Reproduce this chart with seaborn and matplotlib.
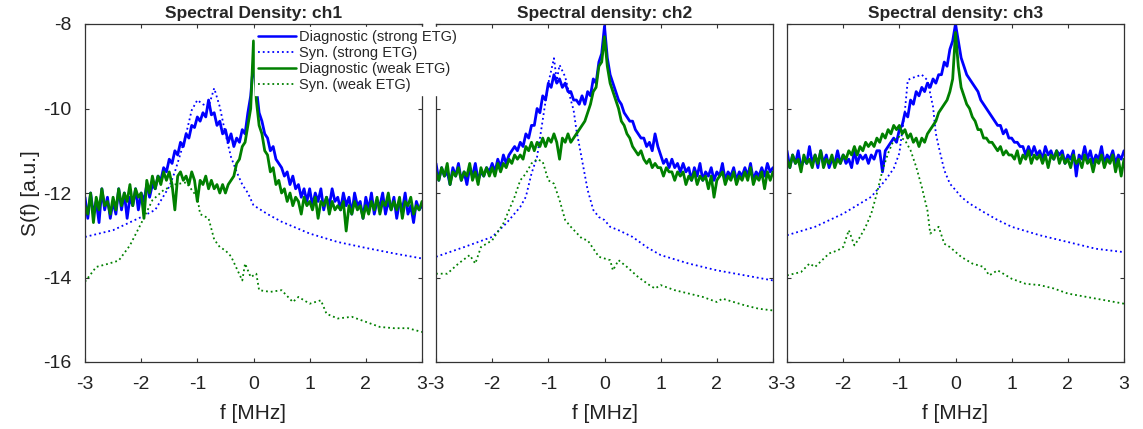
import numpy as np
import pandas as pd
import matplotlib
matplotlib.use("Agg")
import matplotlib.pyplot as plt
import seaborn as sns
from matplotlib.lines import Line2D

# frequency grid of the diagnostic spectra [MHz]
freq = np.linspace(-3, 3, 121)

# ---- ch1 ----
ch1_diag_strong = [
    -12.1, -12.6, -12.0, -12.5, -12.2, -12.7, -11.9, -12.4, -12.1, -12.6,
    -12.2, -12.5, -11.9, -12.4, -12.0, -12.6, -12.1, -12.3, -11.9, -12.4,
    -12.0, -12.2, -11.8, -12.1, -11.8, -11.9, -11.6, -11.7, -11.4, -11.5,
    -11.2, -11.3, -11.0, -11.1, -10.8, -10.9, -10.6, -10.7, -10.4, -10.45,
    -10.2, -10.3, -10.1, -10.2, -9.8, -10.15, -10.1, -10.4, -10.3, -10.6,
    -10.5, -10.8, -10.6, -10.9, -10.7, -10.8, -10.5, -10.6, -10.1, -9.7,
    -8.9,
    -9.5, -10.1, -10.3, -10.6, -10.7, -11.0, -10.9, -11.2, -11.3,
    -11.4, -11.6, -11.5, -11.8, -11.6, -11.9, -11.8, -12.1, -11.9, -12.2,
    -11.9, -12.3, -12.0, -12.2, -11.9, -12.4, -12.1, -12.3, -11.9, -12.2,
    -12.1, -12.4, -12.0, -12.3, -12.1, -12.5, -12.0, -12.3, -12.2, -12.6,
    -12.1, -12.4, -12.0, -12.5, -12.2, -12.3, -12.0, -12.5, -12.2, -12.4,
    -12.1, -12.6, -12.2, -12.4, -12.0, -12.5, -12.3, -12.7, -12.2, -12.4, -12.3,
]
ch1_diag_weak = [
    -12.3, -12.5, -12.0, -12.7, -12.1, -12.4, -11.9, -12.3, -12.2, -12.5,
    -12.1, -12.4, -11.9, -12.3, -12.0, -12.2, -11.8, -12.3, -11.9, -12.1,
    -12.0, -12.6, -11.7, -12.0, -11.6, -11.9, -11.6, -11.8, -11.5, -11.7,
    -11.5, -11.8, -12.4, -11.6, -11.5, -11.7, -11.6, -11.8, -11.5, -11.7,
    -12.2, -11.7, -11.8, -11.6, -11.9, -11.7, -11.9, -11.8, -12.0, -11.8,
    -12.0, -11.8, -11.7, -11.6, -11.3, -11.2, -10.9, -10.8, -10.4, -10.0,
    -8.4,
    -9.8, -10.4, -10.6, -11.0, -11.1, -11.5, -11.4, -11.8, -11.7,
    -12.0, -11.9, -12.2, -12.0, -12.3, -12.1, -12.2, -12.5, -12.1, -12.3,
    -12.2, -12.4, -12.1, -12.6, -12.2, -12.3, -12.1, -12.5, -12.2, -12.4,
    -12.3, -12.4, -12.2, -12.9, -12.3, -12.5, -12.2, -12.4, -12.3, -12.6,
    -12.3, -12.5, -12.2, -12.4, -12.1, -12.5, -12.2, -12.3, -12.0, -12.4,
    -12.2, -12.4, -12.1, -12.6, -12.2, -12.3, -12.1, -12.5, -12.3, -12.4, -12.2,
]
ch1_syn_strong_f = [-3, -2.5, -2, -1.75, -1.5, -1.4, -1.3, -1.2, -1.1, -1.0, -0.9, -0.8,
                    -0.7, -0.6, -0.5, -0.4, -0.3, -0.2, -0.1, 0, 0.25, 0.5, 1.0, 1.5,
                    2.0, 2.5, 3.0]
ch1_syn_strong = [-13.04, -12.88, -12.57, -12.4, -11.85, -11.5, -11.07, -10.6, -10.04, -9.8,
                  -9.9, -9.96, -9.52, -9.96, -10.6, -11.15, -11.5, -11.8, -12.0, -12.29,
                  -12.5, -12.68, -12.96, -13.16, -13.3, -13.43, -13.55]
ch1_syn_weak_f = [-3, -2.8, -2.6, -2.4, -2.2, -2.0, -1.8, -1.6, -1.4, -1.2, -1.0, -0.95,
                  -0.8, -0.7, -0.6, -0.5, -0.4, -0.2, -0.15, -0.05, 0.05, 0.1, 0.3, 0.5,
                  0.7, 0.8, 1.0, 1.2, 1.3, 1.5, 1.75, 2.0, 2.25, 2.5, 2.75, 3.0]
ch1_syn_weak = [-14.1, -13.75, -13.68, -13.6, -13.24, -12.72, -12.17, -11.93, -11.8, -11.75,
                -12.1, -12.5, -12.6, -13.1, -13.28, -13.36, -13.5, -14.07, -13.67, -13.99,
                -13.91, -14.3, -14.34, -14.3, -14.58, -14.46, -14.62, -14.54, -14.86,
                -14.97, -14.93, -15.05, -15.17, -15.2, -15.2, -15.29]

# ---- ch2 ----
ch2_diag_strong = [
    -11.3, -11.7, -11.4, -11.6, -11.5, -11.8, -11.4, -11.6, -11.3, -11.7,
    -11.5, -11.8, -11.4, -11.6, -11.3, -11.7, -11.5, -11.6, -11.4, -11.5,
    -11.3, -11.5, -11.2, -11.4, -11.1, -11.3, -11.1, -11.0, -10.9, -11.0,
    -10.8, -10.9, -10.6, -10.7, -10.4, -10.4, -10.0, -10.1, -9.7, -9.8,
    -9.4, -9.5, -9.2, -9.4, -9.3, -9.5, -9.4, -9.6, -9.6, -9.8,
    -9.8, -9.9, -9.7, -9.9, -9.6, -9.7, -9.3, -9.4, -8.9, -8.7,
    -8.05,
    -8.8, -9.2, -9.4, -9.6, -9.8, -9.9, -10.1, -10.2, -10.3,
    -10.3, -10.5, -10.6, -10.7, -10.7, -10.9, -10.8, -11.0, -10.6, -10.9,
    -11.1, -11.3, -11.2, -11.4, -11.2, -11.4, -11.3, -11.5, -11.3, -11.5,
    -11.4, -11.7, -11.4, -11.6, -11.3, -11.7, -11.5, -11.6, -11.4, -11.7,
    -11.5, -11.6, -11.3, -11.7, -11.5, -11.6, -11.4, -11.7, -11.5, -11.6,
    -11.4, -11.6, -11.3, -11.7, -11.5, -11.6, -11.4, -11.6, -11.3, -11.5, -11.4,
]
ch2_diag_weak = [
    -11.5, -11.7, -11.4, -11.6, -11.3, -11.8, -11.5, -11.6, -11.4, -11.7,
    -11.5, -11.6, -11.3, -11.7, -11.5, -11.8, -11.4, -11.6, -11.4, -11.6,
    -11.4, -11.6, -11.3, -11.5, -11.3, -11.4, -11.2, -11.3, -11.1, -11.2,
    -11.1, -11.2, -10.9, -11.0, -10.8, -11.0, -10.8, -10.9, -10.7, -10.9,
    -10.7, -10.8, -10.6, -10.8, -11.2, -10.7, -10.8, -10.6, -10.8, -10.7,
    -10.6, -10.5, -10.4, -10.3, -10.1, -9.9, -9.6, -9.5, -9.0, -8.9,
    -8.3,
    -9.0, -9.4, -9.6, -9.8, -10.0, -10.3, -10.4, -10.6, -10.7,
    -10.9, -11.0, -11.1, -11.0, -11.2, -11.3, -11.2, -11.4, -11.3, -11.4,
    -11.4, -11.6, -11.4, -11.5, -11.5, -11.7, -11.5, -11.6, -11.5, -11.8,
    -11.6, -11.7, -11.5, -11.8, -11.6, -11.7, -11.6, -11.9, -11.6, -12.1,
    -11.7, -11.6, -11.5, -11.8, -11.6, -11.7, -11.5, -11.8, -11.6, -11.7,
    -11.5, -11.7, -11.4, -11.8, -11.6, -11.7, -11.5, -11.9, -11.5, -11.7, -11.5,
]
ch2_syn_strong_f = [-3, -2.5, -2.0, -1.75, -1.5, -1.4, -1.3, -1.2, -1.1, -1.0, -0.9, -0.85,
                    -0.8, -0.7, -0.6, -0.55, -0.5, -0.4, -0.3, -0.2, -0.1, 0, 0.1, 0.25,
                    0.5, 0.75, 1.0, 1.5, 2.0, 2.5, 3.0]
ch2_syn_strong = [-13.51, -13.28, -13.04, -12.72, -12.33, -12.09, -11.54, -11.14, -10.27,
                  -9.4, -8.81, -9.33, -8.97, -9.25, -9.8, -10.04, -10.51, -11.22, -11.93,
                  -12.4, -12.57, -12.64, -12.8, -12.88, -13.04, -13.28, -13.47, -13.67,
                  -13.83, -13.95, -14.07]
ch2_syn_weak_f = [-3, -2.8, -2.6, -2.4, -2.3, -2.2, -2.0, -1.8, -1.6, -1.5, -1.4, -1.3,
                  -1.2, -1.1, -1.0, -0.9, -0.8, -0.7, -0.6, -0.4, -0.3, -0.1, 0.1, 0.15,
                  0.25, 0.4, 0.6, 0.8, 0.9, 1.0, 1.25, 1.5, 1.75, 2.0, 2.1, 2.5, 2.75, 3.0]
ch2_syn_weak = [-13.91, -13.91, -13.67, -13.47, -13.67, -13.28, -13.12, -12.72, -12.09,
                -11.7, -11.54, -11.3, -11.2, -11.26, -11.7, -11.78, -12.17, -12.64, -12.8,
                -13.08, -13.12, -13.51, -13.59, -13.83, -13.59, -13.75, -13.99, -14.18,
                -14.26, -14.18, -14.3, -14.38, -14.46, -14.58, -14.5, -14.66, -14.74,
                -14.78]

# ---- ch3 ----
ch3_diag_strong = [
    -11.0, -11.4, -11.1, -11.3, -11.0, -11.4, -11.2, -11.3, -10.9, -11.3,
    -11.1, -11.4, -11.0, -11.3, -11.1, -11.4, -11.2, -11.3, -11.0, -11.3,
    -11.1, -11.3, -11.2, -11.4, -11.0, -11.3, -11.1, -11.2, -11.1, -11.3,
    -11.1, -11.2, -11.0, -11.0, -11.5, -11.0, -10.9, -10.8, -10.7, -10.8,
    -10.5, -10.4, -10.1, -10.2, -9.8, -9.9, -9.6, -9.7, -9.5, -9.6,
    -9.4, -9.5, -9.3, -9.4, -9.2, -9.2, -8.9, -9.0, -8.6, -8.4,
    -8.0,
    -8.4, -8.8, -9.0, -9.2, -9.3, -9.4, -9.5, -9.6, -9.8,
    -9.9, -10.0, -10.1, -10.2, -10.3, -10.4, -10.4, -10.6, -10.5, -10.7,
    -10.7, -10.8, -10.8, -10.9, -10.9, -11.1, -10.9, -11.1, -10.9, -11.1,
    -11.0, -11.2, -10.9, -11.1, -11.0, -11.2, -11.0, -11.1, -11.0, -11.3,
    -11.1, -11.2, -11.0, -11.6, -11.1, -11.2, -10.9, -11.2, -11.0, -11.3,
    -11.1, -11.2, -10.9, -11.3, -11.1, -11.2, -11.0, -11.3, -11.1, -11.2, -11.0,
]
ch3_diag_weak = [
    -11.2, -11.4, -11.1, -11.3, -11.2, -11.5, -11.1, -11.3, -11.2, -11.4,
    -11.1, -11.3, -11.0, -11.4, -11.2, -11.3, -11.1, -11.4, -11.2, -11.3,
    -11.1, -11.2, -11.0, -11.1, -10.9, -11.1, -10.9, -11.0, -10.8, -10.9,
    -10.8, -10.9, -10.7, -10.8, -10.6, -10.7, -10.5, -10.6, -10.4, -10.5,
    -10.4, -10.6, -10.5, -10.7, -10.6, -10.8, -10.7, -10.9, -10.7, -10.8,
    -10.6, -10.5, -10.4, -10.3, -10.1, -10.0, -9.9, -9.8, -9.6, -9.3,
    -8.2,
    -9.0, -9.5, -9.7, -9.9, -10.0, -10.2, -10.3, -10.5, -10.5,
    -10.7, -10.7, -10.8, -10.8, -10.9, -11.0, -10.9, -11.1, -11.0, -11.1,
    -11.1, -11.2, -11.0, -11.3, -11.1, -11.2, -11.0, -11.3, -11.1, -11.2,
    -11.1, -11.3, -11.1, -11.4, -11.1, -11.2, -11.0, -11.3, -11.1, -11.3,
    -11.2, -11.4, -11.1, -11.3, -11.2, -11.4, -11.1, -11.3, -11.2, -11.5,
    -11.2, -11.3, -11.1, -11.4, -11.2, -11.3, -11.1, -11.5, -11.2, -11.6, -11.2,
]
ch3_syn_strong_f = [-3, -2.5, -2.0, -1.5, -1.25, -1.1, -1.0, -0.9, -0.85, -0.8, -0.6, -0.5,
                    -0.4, -0.35, -0.3, -0.2, -0.1, 0, 0.1, 0.25, 0.5, 0.75, 1.0, 1.5, 2.0,
                    2.5, 3.0]
ch3_syn_strong = [-13.0, -12.8, -12.49, -12.09, -11.7, -11.42, -11.06, -10.04, -9.33, -9.29,
                  -9.2, -9.33, -9.96, -10.59, -10.9, -11.46, -11.78, -11.93, -12.09,
                  -12.25, -12.45, -12.64, -12.8, -13.0, -13.16, -13.32, -13.4]
ch3_syn_weak_f = [-3, -2.75, -2.6, -2.5, -2.25, -2.1, -2.0, -1.9, -1.8, -1.7, -1.6, -1.5,
                  -1.4, -1.3, -1.2, -1.1, -1.0, -0.9, -0.8, -0.7, -0.6, -0.5, -0.45, -0.3,
                  -0.2, -0.1, 0.1, 0.3, 0.5, 0.6, 0.75, 1.0, 1.25, 1.5, 1.75, 2.0, 2.5, 3.0]
ch3_syn_weak = [-13.95, -13.87, -13.67, -13.75, -13.43, -13.36, -13.28, -12.88, -13.24,
                -13.04, -12.8, -12.49, -12.01, -11.46, -11.06, -10.75, -10.67, -10.75,
                -10.99, -11.38, -11.86, -12.41, -12.96, -12.8, -13.2, -13.28, -13.51,
                -13.67, -13.75, -13.95, -13.83, -14.03, -14.15, -14.18, -14.26, -14.38,
                -14.5, -14.62]

titles = ["Spectral Density: ch1", "Spectral density: ch2", "Spectral density: ch3"]
labels = ["Diagnostic (strong ETG)", "Syn. (strong ETG)",
          "Diagnostic (weak ETG)", "Syn. (weak ETG)"]

panels = [
    (ch1_diag_strong, ch1_syn_strong_f, ch1_syn_strong, ch1_diag_weak, ch1_syn_weak_f, ch1_syn_weak),
    (ch2_diag_strong, ch2_syn_strong_f, ch2_syn_strong, ch2_diag_weak, ch2_syn_weak_f, ch2_syn_weak),
    (ch3_diag_strong, ch3_syn_strong_f, ch3_syn_strong, ch3_diag_weak, ch3_syn_weak_f, ch3_syn_weak),
]

BLUE = "#0000ff"
GREEN = "#008000"

sns.set_style("ticks")
plt.rcParams["font.family"] = ["Liberation Sans", "DejaVu Sans"]
plt.rcParams["axes.unicode_minus"] = False
plt.rcParams["xtick.direction"] = "in"
plt.rcParams["ytick.direction"] = "in"

fig = plt.figure(figsize=(11.43, 4.29), dpi=100)
lefts = [85, 436, 787]
for k, left in enumerate(lefts):
    ax = fig.add_axes([left / 1143, 1 - 362 / 429, 337 / 1143, 338 / 429])
    ds, sfs, ss, dw, sfw, sw = panels[k]
    sns.lineplot(x=freq, y=ds, ax=ax, color=BLUE, lw=2.0, estimator=None, sort=False)
    sns.lineplot(x=sfs, y=ss, ax=ax, color=BLUE, lw=1.3, ls=":", estimator=None, sort=False)
    sns.lineplot(x=freq, y=dw, ax=ax, color=GREEN, lw=2.0, estimator=None, sort=False)
    sns.lineplot(x=sfw, y=sw, ax=ax, color=GREEN, lw=1.3, ls=":", estimator=None, sort=False)

    ax.set_xlim(-3, 3)
    ax.set_ylim(-16, -8)
    ax.set_xticks(range(-3, 4))
    ax.set_yticks(range(-16, -7, 2))
    ax.tick_params(top=True, right=True, labelsize=14, length=3, width=0.8,
                   color="#333333", labelcolor="#222222")
    ax.tick_params(axis="x", pad=10)
    ax.tick_params(axis="y", pad=10)
    for sp in ax.spines.values():
        sp.set_linewidth(0.9)
        sp.set_color("#333333")
    ax.set_xlabel("f [MHz]", fontsize=15, labelpad=8, color="#222222")
    ax.set_title(titles[k], fontsize=12.5, fontweight="bold", pad=4)
    if k == 0:
        ax.set_ylabel("S(f) [a.u.]", fontsize=15, labelpad=2, color="#222222")
    else:
        ax.set_yticklabels([])
        ax.set_ylabel("")

handles = [
    Line2D([], [], color=BLUE, lw=1.8),
    Line2D([], [], color=BLUE, lw=1.3, ls=":"),
    Line2D([], [], color=GREEN, lw=1.8),
    Line2D([], [], color=GREEN, lw=1.3, ls=":"),
]
leg = fig.legend(handles, labels, loc="upper left",
                 bbox_to_anchor=(255 / 1143, 1 - 27 / 429), fontsize=10.5,
                 frameon=True, fancybox=False, framealpha=1, edgecolor="white",
                 borderpad=0.2, labelspacing=0.15, handlelength=2.6,
                 handletextpad=0.2, borderaxespad=0)
leg.set_zorder(10)

fig.savefig("out.png", dpi=100)
